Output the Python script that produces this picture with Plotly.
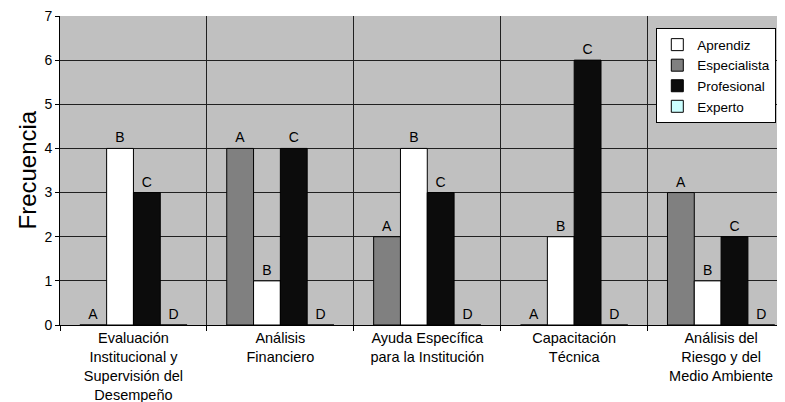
import plotly.graph_objects as go

categories = [
    "Evaluación<br>Institucional y<br>Supervisión del<br>Desempeño",
    "Análisis<br>Financiero",
    "Ayuda Específica<br>para la Institución",
    "Capacitación<br>Técnica",
    "Análisis del<br>Riesgo y del<br>Medio Ambiente",
]
especialista = [0, 4, 2, 0, 3]   # label A
aprendiz = [4, 1, 4, 2, 1]       # label B
profesional = [3, 4, 3, 6, 2]    # label C
experto = [0, 0, 0, 0, 0]        # label D

series = [
    ("Especialista", especialista, "A", "#808080", 2),
    ("Aprendiz", aprendiz, "B", "#ffffff", 1),
    ("Profesional", profesional, "C", "#0c0c0c", 3),
    ("Experto", experto, "D", "#ccffff", 4),
]

fig = go.Figure()
for name, vals, lab, col, rank in series:
    fig.add_trace(go.Bar(
        x=categories, y=vals, name=name,
        text=[lab] * len(vals), textposition="outside",
        textfont=dict(size=14, color="black", family="Liberation Sans"),
        marker=dict(color=col, line=dict(color="black", width=1)),
        cliponaxis=False, legendrank=rank,
    ))

fig.update_layout(
    width=777, height=394,
    margin=dict(l=52, r=0, t=8, b=77),
    paper_bgcolor="white", plot_bgcolor="#c0c0c0",
    barmode="group", bargap=0.27, bargroupgap=0,
    font=dict(family="Liberation Sans", size=13, color="black"),
    showlegend=True,
    legend=dict(x=0.988, y=0.96, xanchor="right", yanchor="top",
                bgcolor="white", bordercolor="black", borderwidth=1,
                font=dict(size=13.5, family="Liberation Sans"),
                tracegroupgap=0, itemwidth=30),
    annotations=[dict(text="Frecuencia", xref="paper", yref="paper",
                      x=-0.0455, y=0.5, xanchor="center", yanchor="middle",
                      textangle=-90, showarrow=False,
                      font=dict(size=24, family="Liberation Sans"))],
)
fig.update_xaxes(
    range=[-0.5, 4.435], tickson="boundaries", showgrid=True,
    gridcolor="#202020", gridwidth=1, ticks="outside", ticklen=5,
    tickcolor="black", showline=True, linecolor="black", linewidth=1,
    tickfont=dict(size=14.5), tickangle=0, automargin=False,
    ticklabeloverflow="allow",
)
fig.update_yaxes(
    range=[0, 7], dtick=1, showgrid=True, gridcolor="#202020", gridwidth=1,
    ticks="outside", ticklen=4, tickcolor="black", showline=True,
    linecolor="black", linewidth=1, tickfont=dict(size=14),
    zeroline=False, automargin=False, ticklabeloverflow="allow",
)

fig.write_html("out.html")
